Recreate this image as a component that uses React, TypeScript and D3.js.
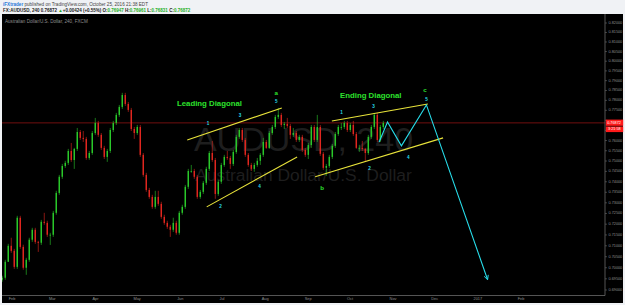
import React from "react";
import * as d3 from "d3";

// ---------- data ----------
const firstBar = "2016-01-25";
const lastBar = "2016-10-25";
const openFirst = 0.6946;

const closes = [
  0.6955, 0.7027, 0.71, 0.7077, 0.7004, 0.723, 0.7095, 0.7, 0.7036, 0.7128,
  0.7174, 0.7118, 0.7114, 0.7211, 0.7206, 0.7151, 0.7151, 0.7253, 0.7347, 0.7424,
  0.7476, 0.7491, 0.7549, 0.7505, 0.7559, 0.7642, 0.7613, 0.7608, 0.7515, 0.7539,
  0.7637, 0.7687, 0.7628, 0.7564, 0.752, 0.7549, 0.7652, 0.7687, 0.7727, 0.7767,
  0.7827, 0.7782, 0.7752, 0.7657, 0.7637, 0.7667, 0.753, 0.7433, 0.7361, 0.7328,
  0.7281, 0.7328, 0.7295, 0.7234, 0.7206, 0.7188, 0.7174, 0.7206, 0.716, 0.7253,
  0.7281, 0.7376, 0.7452, 0.7452, 0.7424, 0.7328, 0.7352, 0.7395, 0.7462, 0.7539,
  0.7505, 0.7342, 0.74, 0.7481, 0.752, 0.7515, 0.7486, 0.7544, 0.7618, 0.7652,
  0.7603, 0.753, 0.7481, 0.7462, 0.7481, 0.7501, 0.753, 0.7593, 0.7564, 0.7637,
  0.7667, 0.7717, 0.7727, 0.7677, 0.7682, 0.7672, 0.7628, 0.7637, 0.7603, 0.7618,
  0.7554, 0.753, 0.7578, 0.7667, 0.7603, 0.7667, 0.7535, 0.7467, 0.7476, 0.752,
  0.7574, 0.7632, 0.7667, 0.7667, 0.7687, 0.7652, 0.7677, 0.7632, 0.7564, 0.7564,
  0.7559, 0.7539, 0.7618, 0.7667, 0.7727, 0.7603, 0.7667, 0.76872,
];

const highs = [
  0.6964, 0.7036, 0.7109, 0.7137, 0.7086, 0.7239, 0.7239, 0.7105, 0.7045, 0.7137,
  0.7183, 0.7183, 0.7123, 0.722, 0.7253, 0.7216, 0.716, 0.7262, 0.7357, 0.7433,
  0.7486, 0.7501, 0.7559, 0.7588, 0.7564, 0.7662, 0.7652, 0.7647, 0.7618, 0.7549,
  0.7647, 0.7712, 0.7697, 0.7637, 0.7574, 0.7559, 0.7662, 0.7697, 0.7737, 0.7777,
  0.7838, 0.7838, 0.7792, 0.7762, 0.7667, 0.7677, 0.7677, 0.7539, 0.7443, 0.7371,
  0.7338, 0.7357, 0.7357, 0.7305, 0.7244, 0.7216, 0.7197, 0.723, 0.7216, 0.7262,
  0.7291, 0.7385, 0.7462, 0.7481, 0.7462, 0.7433, 0.7361, 0.7404, 0.7472, 0.7549,
  0.7598, 0.7515, 0.7409, 0.7491, 0.753, 0.7549, 0.7525, 0.7554, 0.7628, 0.7662,
  0.7662, 0.7613, 0.7539, 0.7491, 0.7491, 0.7515, 0.7539, 0.7613, 0.7603, 0.7647,
  0.7677, 0.7727, 0.7762, 0.7737, 0.7692, 0.7712, 0.7682, 0.7662, 0.7647, 0.7628,
  0.7628, 0.7564, 0.7588, 0.7677, 0.7677, 0.7727, 0.7677, 0.7544, 0.7486, 0.753,
  0.7583, 0.7642, 0.7677, 0.7687, 0.7697, 0.7697, 0.7687, 0.7697, 0.7642, 0.7579,
  0.7598, 0.7564, 0.7628, 0.7677, 0.7737, 0.7737, 0.7677, 0.7697,
];

const lows = [
  0.6937, 0.6946, 0.7027, 0.7068, 0.6995, 0.6995, 0.7086, 0.6991, 0.6968, 0.7027,
  0.7118, 0.7109, 0.7072, 0.7104, 0.7197, 0.7141, 0.7104, 0.7141, 0.7244, 0.7338,
  0.7414, 0.7467, 0.7481, 0.7496, 0.7462, 0.7549, 0.7603, 0.7593, 0.7506, 0.7506,
  0.753, 0.7628, 0.7618, 0.7554, 0.751, 0.7496, 0.7539, 0.7642, 0.7677, 0.7717,
  0.7757, 0.7772, 0.7742, 0.7647, 0.7608, 0.7628, 0.752, 0.7424, 0.7352, 0.7319,
  0.7272, 0.7272, 0.7286, 0.7225, 0.7197, 0.7178, 0.7141, 0.7164, 0.7151, 0.7151,
  0.7244, 0.7272, 0.7366, 0.7443, 0.7414, 0.7319, 0.7319, 0.7342, 0.7385, 0.7452,
  0.7496, 0.7319, 0.7333, 0.739, 0.7472, 0.7506, 0.7462, 0.7476, 0.7535, 0.7608,
  0.7593, 0.752, 0.7472, 0.7452, 0.7448, 0.7472, 0.7481, 0.752, 0.7559, 0.7559,
  0.7628, 0.7657, 0.7707, 0.7667, 0.7657, 0.7662, 0.7608, 0.7618, 0.7593, 0.7593,
  0.7544, 0.752, 0.751, 0.7564, 0.7593, 0.7593, 0.7525, 0.7457, 0.7428, 0.7467,
  0.751, 0.7564, 0.7623, 0.7652, 0.7657, 0.7642, 0.7642, 0.7623, 0.7559, 0.7544,
  0.7549, 0.7496, 0.753, 0.7608, 0.7657, 0.7593, 0.7593, 0.7657,
];

const priceTicks = [
  0.82, 0.815, 0.81, 0.805, 0.8, 0.795, 0.79, 0.785, 0.78, 0.775, 0.77, 0.765, 0.76, 0.755,
  0.75, 0.745, 0.74, 0.735, 0.73, 0.725, 0.72, 0.715, 0.71, 0.705, 0.7, 0.695, 0.69,
];
const monthTicks = [
  "2016-02-01", "2016-03-01", "2016-04-01", "2016-05-01", "2016-06-01", "2016-07-01", "2016-08-01",
  "2016-09-01", "2016-10-01", "2016-11-01", "2016-12-01", "2017-01-01", "2017-02-01",
];
const monthLabels = ["Feb", "Mar", "Apr", "May", "Jun", "Jul", "Aug", "Sep", "Oct", "Nov", "Dec", "2017", "Feb"];

const lastPrice = 0.76872;
const countdown = "3:21:58";

type Pt = [string, number];
const leadingUpper: Pt[] = [["2016-06-06", 0.7603], ["2016-08-13", 0.7762]];
const leadingLower: Pt[] = [["2016-06-20", 0.7281], ["2016-08-24", 0.752]];
const endingUpper: Pt[] = [["2016-09-18", 0.7697], ["2016-11-26", 0.7782]];
const endingLower: Pt[] = [["2016-09-06", 0.7424], ["2016-12-07", 0.7613]];
const projection: Pt[] = [
  ["2016-10-22", 0.7593], ["2016-10-28", 0.7692], ["2016-11-07", 0.7574], ["2016-11-25", 0.7777], ["2017-01-08", 0.6946],
];

const waveDates = ["2016-06-21", "2016-06-30", "2016-07-14", "2016-07-28", "2016-08-09",
  "2016-09-25", "2016-10-15", "2016-10-18", "2016-11-12", "2016-11-25"];
const wavePrices = [0.7682, 0.7281, 0.7722, 0.7376, 0.7792, 0.7737, 0.7462, 0.7767, 0.7515, 0.7802];
const waveTexts = ["1", "2", "3", "4", "5", "1", "2", "3", "4", "5"];

const letterDates = ["2016-08-09", "2016-09-11", "2016-11-24"];
const letterPrices = [0.7838, 0.7371, 0.7853];
const letterTexts = ["a", "b", "c"];

const titleDates = ["2016-06-22", "2016-10-16"];
const titlePrices = [0.7782, 0.7827];
const titleTexts = ["Leading Diagonal", "Ending Diagonal"];

// ---------- component ----------
export default function App() {
  const W = 625, H = 305;
  const font = "'Liberation Sans', Arial, sans-serif";
  const parse = d3.timeParse("%Y-%m-%d");
  const P = (s: string) => parse(s) as Date;

  const left = 2, right = 605, top = 14, bottom = 295.5;
  const x = d3.scaleTime().domain([P("2016-02-01"), P("2017-02-01")]).range([12, 521]);
  const y = d3.scaleLog().domain([0.69, 0.82]).range([290, 23]);

  const t0 = P(firstBar).getTime();
  const t1 = P(lastBar).getTime();
  const n = closes.length;
  const bars = closes.map((c, i) => ({
    t: new Date(t0 + ((t1 - t0) * i) / (n - 1)),
    o: i === 0 ? openFirst : closes[i - 1],
    h: highs[i],
    l: lows[i],
    c,
  }));
  const step = x(bars[1].t) - x(bars[0].t);
  const bodyW = step * 0.48;

  const line = d3.line<Pt>().x((d) => x(P(d[0]))).y((d) => y(d[1]));
  const yLast = y(lastPrice);

  const up = "#2ac82a";
  const down = "#e0261f";
  const cyan = "#27dbe8";
  const yellow = "#e8e33a";
  const green = "#2de02d";

  const cx = (left + right) / 2;
  const cy = (top + bottom) / 2;

  return (
    <svg width={W} height={H} style={{ position: "fixed", left: 0, top: 0, display: "block" }} fontFamily={font}>
      <defs>
        <clipPath id="plot">
          <rect x={left} y={top} width={right - left} height={bottom - top} />
        </clipPath>
        <marker id="arr" viewBox="0 0 10 10" refX="9" refY="5" markerWidth="5" markerHeight="5" orient="auto">
          <path d="M1,1 L9,5 L1,9" fill="none" stroke={cyan} strokeWidth={1.6} />
        </marker>
      </defs>
      <rect x={0} y={0} width={W} height={H} fill="#f0f2f5" />
      {/* header */}
      <text x={3} y={6} fontSize={4.6} fill="#444">
        <tspan fill="#2b78d8" fontWeight="bold">iFXtrader</tspan>
        <tspan> published on TradingView.com, October 25, 2016 21:38 EDT</tspan>
      </text>
      <text x={3} y={11.6} fontSize={4.5} fontWeight="bold" fill="#222">
        <tspan>FX:AUDUSD, 240 </tspan>
        <tspan>0.76872 </tspan>
        <tspan fill="#25a825">▲</tspan>
        <tspan>+0.00424 (+0.55%) </tspan>
        <tspan>O:</tspan><tspan fill="#25b025">0.76947 </tspan>
        <tspan>H:</tspan><tspan fill="#25b025">0.76961 </tspan>
        <tspan>L:</tspan><tspan fill="#25b025">0.76831 </tspan>
        <tspan>C:</tspan><tspan fill="#25b025">0.76872</tspan>
      </text>

      {/* panel */}
      <rect x={left} y={top} width={W - 2 - left} height={303 - top} fill="#000" />

      <g clipPath="url(#plot)">
        {/* watermark */}
        <text x={cx} y={cy - 4} textAnchor="middle" fontSize={34} fill="#1e1e1e">AUDUSD, 240</text>
        <text x={cx} y={cy + 26.5} textAnchor="middle" fontSize={17.4} fill="#1e1e1e">Australian Dollar/U.S. Dollar</text>

        {/* last price line */}
        <line x1={left} x2={right} y1={yLast} y2={yLast} stroke="#7e1111" strokeWidth={0.9} />

        {/* candles */}
        {bars.map((b, i) => {
          const col = b.c >= b.o ? up : down;
          const xc = x(b.t);
          const yt = y(Math.max(b.o, b.c));
          const yb = y(Math.min(b.o, b.c));
          return (
            <g key={i}>
              <line x1={xc} x2={xc} y1={y(b.h)} y2={y(b.l)} stroke={col} strokeWidth={0.6} />
              <rect x={xc - bodyW / 2} y={yt} width={bodyW} height={Math.max(0.8, yb - yt)} fill={col} />
            </g>
          );
        })}

        {/* diagonals */}
        {[leadingUpper, leadingLower, endingUpper, endingLower].map((pts, i) => (
          <path key={i} d={line(pts) || ""} fill="none" stroke={yellow} strokeWidth={1.1} />
        ))}

        {/* projection */}
        <path d={line(projection) || ""} fill="none" stroke={cyan} strokeWidth={1.1} markerEnd="url(#arr)" />

        {/* wave labels */}
        {waveTexts.map((s, i) => (
          <text key={"w" + i} x={x(P(waveDates[i]))} y={y(wavePrices[i])} fontSize={4.6} fontWeight="bold"
            fill={cyan} textAnchor="middle" dominantBaseline="central">{s}</text>
        ))}
        {letterTexts.map((s, i) => (
          <text key={"l" + i} x={x(P(letterDates[i]))} y={y(letterPrices[i])} fontSize={6.2} fontWeight="bold"
            fill={green} textAnchor="middle" dominantBaseline="central">{s}</text>
        ))}
        {titleTexts.map((s, i) => (
          <text key={"t" + i} x={x(P(titleDates[i]))} y={y(titlePrices[i])} fontSize={7.8} fontWeight="bold"
            fill={green} textAnchor="middle" dominantBaseline="central">{s}</text>
        ))}
      </g>

      {/* chart title */}
      <text x={5} y={22.5} fontSize={4.6} fill="#8c8c8c">Australian Dollar/U.S. Dollar, 240, FXCM</text>

      {/* axes */}
      <line x1={right} x2={right} y1={top} y2={bottom} stroke="#6a6a6a" strokeWidth={0.8} />
      <line x1={left} x2={right} y1={bottom} y2={bottom} stroke="#6a6a6a" strokeWidth={0.8} />

      {priceTicks.map((p) => {
        const yy = y(p);
        const hidden = yy > yLast - 6 && yy < yLast + 11;
        return (
          <g key={p}>
            <line x1={right} x2={right + 2} y1={yy} y2={yy} stroke="#6a6a6a" strokeWidth={0.6} />
            {!hidden && (
              <text x={right + 3.5} y={yy} fontSize={3.8} fill="#8e8e8e" dominantBaseline="central">
                {p.toFixed(5)}
              </text>
            )}
          </g>
        );
      })}

      {monthTicks.map((m, i) => (
        <text key={m + i} x={x(P(m))} y={300} fontSize={3.9} fill="#8e8e8e" textAnchor="middle">
          {monthLabels[i]}
        </text>
      ))}

      {/* last price labels */}
      <rect x={right + 0.8} y={yLast - 3.3} width={17.4} height={6.2} fill="#ff1a1a" />
      <text x={right + 2.2} y={yLast} fontSize={3.8} fill="#fff" dominantBaseline="central">
        {lastPrice.toFixed(5)}
      </text>
      <rect x={right + 0.8} y={yLast + 3.6} width={17.4} height={5.6} fill="#ff1a1a" />
      <text x={right + 3} y={yLast + 6.5} fontSize={3.8} fill="#fff" dominantBaseline="central">
        {countdown}
      </text>
    </svg>
  );
}
